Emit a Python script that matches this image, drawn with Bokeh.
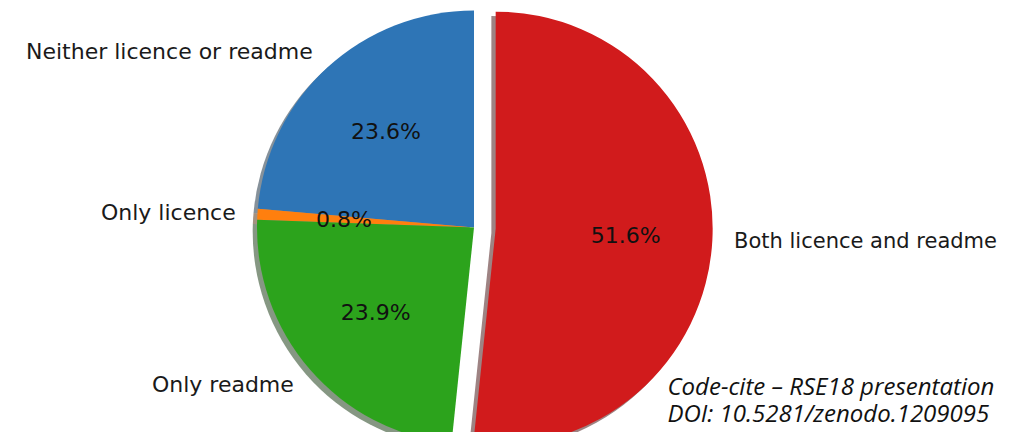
import math
from bokeh.plotting import figure
from bokeh.models import Range1d, ColumnDataSource
from bokeh.core.properties import value
from bokeh.embed import file_html
from bokeh.resources import INLINE

# ---- data ----
categories = ["Neither licence or readme", "Only licence", "Only readme", "Both licence and readme"]
percents = [23.6, 0.8, 23.9, 51.6]
colors = ["#2e75b6", "#ff7f0e", "#2ca31c", "#d11b1c"]
explode = [0.0, 0.0, 0.0, 0.1]
note_lines = ["Code-cite \u2013 RSE18 presentation", "DOI: 10.5281/zenodo.1209095"]

# ---- layout (pixel coordinates measured from top-left of the plot) ----
W, H = 1001, 432
def Y(v):
    return H - v

cx, cy = 473.5, Y(227.0)
R = 217.0
shadow_off = 4.3
start = 90.0
label_sizes = ["22px", "22px", "22px", "21px"]

total = sum(percents)
starts, ends, xs, ys = [], [], [], []
lab_x, lab_y, lab_align, pct_x, pct_y = [], [], [], [], []
a = start
for pctv, ex in zip(percents, explode):
    a0 = a
    a1 = a + 360.0 * pctv / total
    mid = math.radians((a0 + a1) / 2)
    ox = cx + ex * R * math.cos(mid)
    oy = cy + ex * R * math.sin(mid)
    starts.append(math.radians(a0))
    ends.append(math.radians(a1))
    xs.append(ox)
    ys.append(oy)
    lab_x.append(ox + 1.1 * R * math.cos(mid))
    lab_y.append(oy + 1.1 * R * math.sin(mid))
    lab_align.append("left" if math.cos(mid) > 0 else "right")
    pct_x.append(ox + 0.6 * R * math.cos(mid))
    pct_y.append(oy + 0.6 * R * math.sin(mid))
    a = a1

def darker(h):
    r, g, b = int(h[1:3], 16), int(h[3:5], 16), int(h[5:7], 16)
    return "#%02x%02x%02x" % (int(r * 0.3), int(g * 0.3), int(b * 0.3))

src = ColumnDataSource(dict(
    x=xs, y=ys, sx=[v - shadow_off for v in xs], sy=[v - shadow_off for v in ys],
    start=starts, end=ends, color=colors, shadow=[darker(c) for c in colors],
    lx=lab_x, ly=lab_y, align=lab_align, label=categories, lsize=label_sizes,
    px=pct_x, py=pct_y, pct=["%.1f%%" % v for v in percents],
))

p = figure(width=W, height=H, x_range=Range1d(0, W), y_range=Range1d(0, H),
           output_backend="svg", toolbar_location=None, min_border=0)
p.axis.visible = False
p.grid.visible = False
p.outline_line_color = None
p.background_fill_color = "white"
p.border_fill_color = "white"

p.wedge(x="sx", y="sy", radius=R, start_angle="start", end_angle="end",
        fill_color="shadow", fill_alpha=0.5, line_color=None, source=src)
p.wedge(x="x", y="y", radius=R, start_angle="start", end_angle="end",
        fill_color="color", line_color=None, source=src)

p.text(x="lx", y="ly", text="label", text_align="align", text_baseline="middle",
       text_font=value("DejaVu Sans"), text_font_size="lsize", text_color="#1a1a1a", source=src)
p.text(x="px", y="py", text="pct", text_align="center", text_baseline="middle",
       text_font=value("DejaVu Sans"), text_font_size="22px", text_color="#111111", source=src)

p.text(x=[667, 667], y=[Y(385), Y(412)], text=note_lines,
       text_align="left", text_baseline="middle", text_font=value("Open Sans"),
       text_font_style="italic", text_font_size="24px", text_color="#111111")

open("out.html", "w").write(file_html(p, INLINE))
